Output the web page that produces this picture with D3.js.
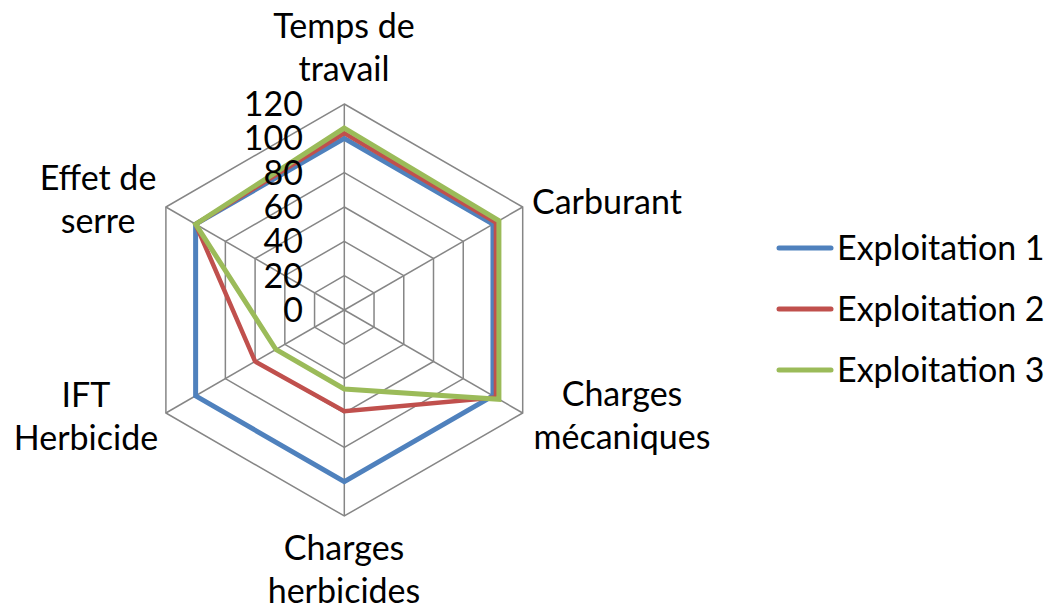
<!DOCTYPE html>
<html><head><meta charset="utf-8">
<script src="https://cdn.jsdelivr.net/npm/d3@7"></script>
<style>html,body{margin:0;padding:0;background:#fff;}</style>
</head><body>
<svg id="chart" width="1048" height="609"></svg>
<script>
const categories = [["Temps de","travail"],["Carburant"],["Charges","mécaniques"],["Charges","herbicides"],["IFT","Herbicide"],["Effet de","serre"]];
const seriesNames = ["Exploitation 1","Exploitation 2","Exploitation 3"];
const exploitation1 = [100,100,100,100,100,100];
const exploitation2 = [103,102,102,59,60,100];
const exploitation3 = [106,104,104,46,46,100];
const tickValues = [0,20,40,60,80,100,120];
const colors = ["#4F81BD","#C0504D","#9BBB59"];
const series = [exploitation1, exploitation2, exploitation3];

const font = "Lato, 'Open Sans', sans-serif";
const fs = 34;
const svg = d3.select("#chart");
const cx = 344.3, cy = 310;
const r = d3.scaleLinear().domain([0,120]).range([0,206]);
const n = categories.length;
const ang = i => -Math.PI/2 + i*2*Math.PI/n;
const pt = (i,v) => [cx + r(v)*Math.cos(ang(i)), cy + r(v)*Math.sin(ang(i))];

// grid rings
const g = svg.append("g");
tickValues.filter(t=>t>0).forEach(t=>{
  g.append("path")
    .attr("d", d3.line()(d3.range(n).map(i=>pt(i,t))) + "Z")
    .attr("fill","none").attr("stroke","#868686").attr("stroke-width",1.5);
});
d3.range(n).forEach(i=>{
  const p = pt(i,120);
  g.append("line").attr("x1",cx).attr("y1",cy).attr("x2",p[0]).attr("y2",p[1])
    .attr("stroke","#868686").attr("stroke-width",1.5);
});

// series
series.forEach((s,k)=>{
  svg.append("path")
    .attr("d", d3.line()(s.map((v,i)=>pt(i,v))) + "Z")
    .attr("fill","none").attr("stroke",colors[k]).attr("stroke-width",k===1?4.5:5)
    .attr("stroke-linejoin","miter");
});

// tick labels
tickValues.forEach(t=>{
  svg.append("text").attr("x",303).attr("y",cy - r(t) + 12)
    .attr("text-anchor","end").attr("font-family",font).attr("font-size",fs)
    .attr("fill","#000").text(t);
});

// category labels
const labelPos = [
  {x:344, y:38, a:"middle"},
  {x:532, y:214, a:"start"},
  {x:622, y:406, a:"middle"},
  {x:344, y:560, a:"middle"},
  {x:86, y:407, a:"middle"},
  {x:98, y:190, a:"middle"}
];
categories.forEach((c,i)=>{
  const lp = labelPos[i];
  const t = svg.append("text").attr("x",lp.x).attr("y",lp.y)
    .attr("text-anchor",lp.a).attr("font-family",font).attr("font-size",fs).attr("fill","#000");
  c.forEach((line,j)=>{
    t.append("tspan").attr("x",lp.x).attr("dy", j===0?0:42.5).text(line);
  });
});

// legend
seriesNames.forEach((name,k)=>{
  const y = 248 + k*61;
  svg.append("line").attr("x1",779).attr("x2",831).attr("y1",y).attr("y2",y)
    .attr("stroke",colors[k]).attr("stroke-width",5).attr("stroke-linecap","round");
  svg.append("text").attr("x",837).attr("y",y+12).attr("font-family",font)
    .attr("font-size",fs).attr("fill","#000").text(name);
});
</script>
</body></html>
